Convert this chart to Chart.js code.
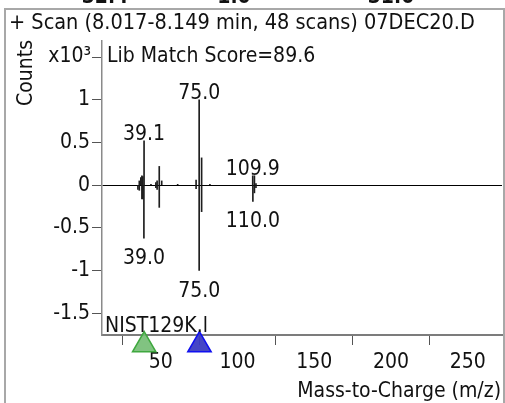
<!DOCTYPE html>
<html>
<head>
<meta charset="utf-8">
<script src="https://cdn.jsdelivr.net/npm/chart.js@4.4.0/dist/chart.umd.min.js"></script>
<style>
  body { margin: 0; background: #fff; }
</style>
</head>
<body>
<canvas id="spectrum" width="505" height="403"></canvas>
<script>
// scan spectrum (upper half), counts x10^3
var upperMz     = [36.0, 37.0, 37.7, 38.3, 39.1, 43.6, 46.8, 47.6, 49.0, 50.6, 61.0, 73.0, 75.0, 76.6, 82.0, 109.9, 111.0, 112.0];
var upperCounts = [0.05, 0.09, 0.11, 0.10, 0.52, 0.01, 0.03, 0.05, 0.22, 0.05, 0.01, 0.06, 1.00, 0.32, 0.01, 0.11, 0.11, 0.02];

// library spectrum (lower half, mirrored)
var lowerMz     = [35.1, 36.0, 37.7, 38.3, 39.0, 46.8, 47.6, 49.0, 73.0, 75.0, 76.6, 110.0, 111.0, 112.0];
var lowerCounts = [-0.05, -0.06, -0.16, -0.16, -0.62, -0.03, -0.05, -0.26, -0.04, -1.00, -0.31, -0.19, -0.09, -0.03];

// labelled peaks
var upperLabels = [39.1, 75.0, 109.9];
var lowerLabels = [39.0, 75.0, 110.0];

// ion markers under the axis
var markerMz = [39.2, 75.2];
var markerLevel = -1.874;

var xTicks = [50, 100, 150, 200, 250];
var yTicks = [-1.5, -1, -0.5, 0, 0.5, 1, 1.5];

var FONT = "'DejaVu Sans Condensed', 'Liberation Sans', sans-serif";

function points(xs, ys) {
    return xs.map(function (m, i) { return { x: m, y: ys[i] }; });
}

var decorations = {
    id: 'decorations',
    afterDraw: function (chart) {
        var ctx = chart.ctx;
        var xs = chart.scales.x, ys = chart.scales.y;
        ctx.save();

        // panel frame
        ctx.strokeStyle = '#a8a8a8';
        ctx.lineWidth = 2;
        ctx.beginPath();
        ctx.moveTo(5, 403);
        ctx.lineTo(5, 9);
        ctx.lineTo(504, 9);
        ctx.lineTo(504, 403);
        ctx.stroke();

        // bottom of the panel above (cut off)
        ctx.fillStyle = '#111';
        ctx.font = 'bold 21px ' + FONT;
        ctx.textAlign = 'center';
        ctx.textBaseline = 'alphabetic';
        ctx.fillText('32.4', 105, 3);
        ctx.fillText('1.0', 234, 3);
        ctx.fillText('31.0', 391, 3);

        ctx.font = '21.5px ' + FONT;
        ctx.textAlign = 'left';
        ctx.fillText('+ Scan (8.017-8.149 min, 48 scans) 07DEC20.D', 9, 29);
        ctx.font = '21px ' + FONT;
        ctx.fillText('Lib Match Score=89.6', 107, 62);
        ctx.fillText('NIST129K.l', 105, 332);

        ctx.textAlign = 'right';
        ctx.fillText('x10\u00B3', 91, 62);
        ctx.fillText('Mass-to-Charge (m/z)', 501, 397);

        ctx.save();
        ctx.translate(32, 73);
        ctx.rotate(-Math.PI / 2);
        ctx.textAlign = 'center';
        ctx.fillText('Counts', 0, 0);
        ctx.restore();

        // peak labels
        ctx.textAlign = 'center';
        upperLabels.forEach(function (m) {
            var v = upperCounts[upperMz.indexOf(m)];
            ctx.fillText(m.toFixed(1), xs.getPixelForValue(m), ys.getPixelForValue(v) - 1);
        });
        lowerLabels.forEach(function (m) {
            var v = lowerCounts[lowerMz.indexOf(m)];
            ctx.fillText(m.toFixed(1), xs.getPixelForValue(m), ys.getPixelForValue(v) + 26);
        });
        ctx.restore();
    }
};

var ctx = document.getElementById('spectrum');
new Chart(ctx, {
    type: 'bar',
    data: {
        datasets: [{
            data: points(upperMz, upperCounts),
            backgroundColor: '#1e1e1e',
            barThickness: 1,
            grouped: false
        }, {
            data: points(lowerMz, lowerCounts),
            backgroundColor: '#1e1e1e',
            barThickness: 1,
            grouped: false
        }, {
            type: 'scatter',
            data: markerMz.map(function (m) { return { x: m, y: markerLevel }; }),
            pointStyle: 'triangle',
            pointRadius: 13.5,
            backgroundColor: ['rgba(115,188,115,0.9)', 'rgba(60,60,195,0.95)'],
            borderColor: ['#3fa83f', '#1010f0'],
            borderWidth: 1.5,
            clip: false
        }]
    },
    options: {
        responsive: false,
        animation: false,
        layout: { autoPadding: false, padding: { left: 0, top: 41, right: 3, bottom: 0 } },
        plugins: {
            legend: { display: false },
            tooltip: { enabled: false }
        },
        scales: {
            x: {
                type: 'linear',
                min: 11.7,
                max: 272.3,
                offset: false,
                afterFit: function (scale) { scale.height = 68; },
                afterBuildTicks: function (scale) {
                    scale.ticks = xTicks.map(function (v) { return { value: v }; });
                },
                border: { color: '#7c7c7c', width: 2 },
                grid: { drawOnChartArea: false, tickLength: 10, tickColor: '#555' },
                ticks: {
                    padding: 5,
                    maxRotation: 0,
                    color: '#111',
                    font: { family: FONT, size: 21 }
                }
            },
            y: {
                min: -1.756,
                max: 1.69,
                afterFit: function (scale) { scale.width = 102; },
                afterBuildTicks: function (scale) {
                    scale.ticks = yTicks.map(function (v) { return { value: v }; });
                },
                border: { color: '#8a8a8a', width: 1.5 },
                grid: {
                    color: function (c) { return c.tick && c.tick.value === 0 ? '#000' : 'rgba(0,0,0,0)'; },
                    tickColor: '#555',
                    tickLength: 10
                },
                ticks: {
                    padding: 2,
                    color: '#111',
                    font: { family: FONT, size: 21 },
                    callback: function (v) { return v === 1.5 ? '' : v; }
                }
            }
        }
    },
    plugins: [decorations]
});
</script>
</body>
</html>
